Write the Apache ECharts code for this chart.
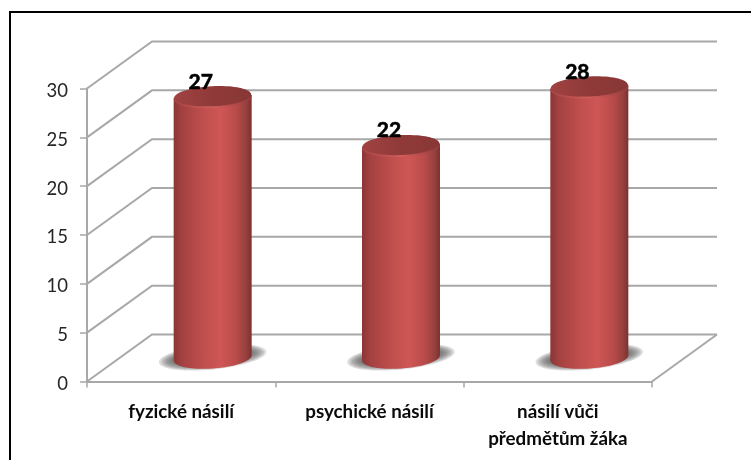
<!DOCTYPE html>
<html><head><meta charset="utf-8">
<style>html,body{margin:0;padding:0;background:#fff}#c{width:751px;height:460px}</style>
<script src="https://cdn.jsdelivr.net/npm/echarts@6/dist/echarts.min.js"></script>
</head><body><div id="c"></div>
<script>
const categories = ['fyzické násilí', 'psychické násilí', 'násilí vůči\npředmětům žáka'];
const values = [27, 22, 28];
const yTicks = [0, 5, 10, 15, 20, 25, 30];

const DX = 65, DY = -47;      // wall depth
const GRID = '#a8a8a8';
const RX = 39, RY = 10.5, TILT_TOP = 0.045, TILT_BASE = 0.07;
const chart = echarts.init(document.getElementById('c'), null, {renderer: 'canvas'});
const bodyFill = {type: 'linear', x: 0, y: 0, x2: 1, y2: 0, colorStops: [
  {offset: 0, color: '#8a3635'}, {offset: 0.1, color: '#a24140'}, {offset: 0.35, color: '#bd4d4c'},
  {offset: 0.6, color: '#cf5755'}, {offset: 0.8, color: '#b94b4a'}, {offset: 0.93, color: '#96403e'},
  {offset: 1, color: '#7c3130'}]};
const rimFill = {type: 'linear', x: 0, y: 0, x2: 1, y2: 0, colorStops: [
  {offset: 0, color: '#a64444'}, {offset: 0.5, color: '#cf5d5b'}, {offset: 1, color: '#943b3a'}]};
const capFill = {type: 'linear', x: 0, y: 0, x2: 1, y2: 0, colorStops: [
  {offset: 0, color: '#a04241'}, {offset: 0.5, color: '#8f3a39'}, {offset: 1, color: '#883736'}]};

chart.setOption({
  animation: false,
  backgroundColor: '#fff',
  graphic: [{type: 'rect', silent: true, z: 0,
    shape: {x: 10, y: 12, width: 770, height: 470},
    style: {fill: 'none', stroke: '#000', lineWidth: 2}}],
  grid: {left: 87, right: 99, top: 88.5, bottom: 78.5},
  xAxis: {type: 'category', data: categories, boundaryGap: true,
    axisLine: {show: true, lineStyle: {color: GRID, width: 2}},
    axisTick: {show: true, length: 6, lineStyle: {color: GRID, width: 1.5}},
    axisLabel: {interval: 0, margin: 17, color: '#0a0a0a', fontFamily: 'Lato', fontWeight: 'bold',
      fontSize: 18.8, lineHeight: 27}},
  yAxis: {type: 'value', min: 0, max: 30, interval: 5,
    splitLine: {show: false},
    axisLine: {show: true, lineStyle: {color: GRID, width: 2}},
    axisTick: {show: true, length: 7, lineStyle: {color: GRID, width: 1.5}},
    axisLabel: {margin: 19, color: '#262626', fontFamily: 'Lato', fontSize: 18.5,
      verticalAlign: 'top', lineHeight: 5}},
  series: [
    {type: 'custom', silent: true, z: 1, data: yTicks,
      renderItem(p, api) {
        const v = api.value(0);
        const a = api.coord([0, v]);
        const x0 = a[0] - (api.size([1, 0])[0]) / 2;
        const x1 = x0 + api.size([1, 0])[0] * 3;
        const children = [{type: 'polyline',
          shape: {points: [[x0, a[1]], [x0 + DX, a[1] + DY], [x1 + DX, a[1] + DY]]},
          style: {fill: 'none', stroke: GRID, lineWidth: 2}}];
        if (v === 0) children.push({type: 'polyline',
          shape: {points: [[x1 + DX, a[1] + DY], [x1, a[1]]]},
          style: {fill: 'none', stroke: GRID, lineWidth: 2}});
        return {type: 'group', children};
      },
      encode: {y: 0}},
    {type: 'custom', silent: true, z: 3,
      data: categories.map((c, i) => [i, values[i]]),
      encode: {x: 0, y: 1},
      renderItem(p, api) {
        const i = api.value(0), v = api.value(1);
        const base = api.coord([i, 0]), top = api.coord([i, v]);
        const cx = base[0] + 31.5, by = base[1] - 23.5, ty = top[1] - 21;
        const ell = (y, rx, ry, tilt, style) => ({type: 'ellipse', x: cx, y, rotation: tilt,
          shape: {cx: 0, cy: 0, rx, ry}, style});
        const dTop = RX * TILT_TOP, dBase = RX * TILT_BASE;
        const shadow = [0, 1, 2, 3, 4, 5].map(k =>
          ell(by - 1, RX + 15 - k * 2.4, RY + 2 - k * 1, 0.1, {fill: 'rgba(85,85,85,0.2)'}));
        return {type: 'group', children: [
          ...shadow,
          ell(by, RX, RY, TILT_BASE, {fill: bodyFill}),
          {type: 'polygon', shape: {points: [[cx - RX, ty + dTop], [cx + RX, ty - dTop],
            [cx + RX, by - dBase], [cx - RX, by + dBase]]}, style: {fill: bodyFill}},
          ell(ty + 0.9, RX, RY, TILT_TOP, {fill: rimFill}),
          ell(ty - 0.6, RX - 0.5, RY - 0.5, TILT_TOP, {fill: capFill}),
          {type: 'text', z2: 10, x: cx - 12, y: ty - 15, style: {text: String(v), fill: '#000',
            stroke: '#000', lineWidth: 0.6,
            font: 'bold 21px Lato', textAlign: 'center', textVerticalAlign: 'middle'}}
        ]};
      }}
  ]
});
</script></body></html>
